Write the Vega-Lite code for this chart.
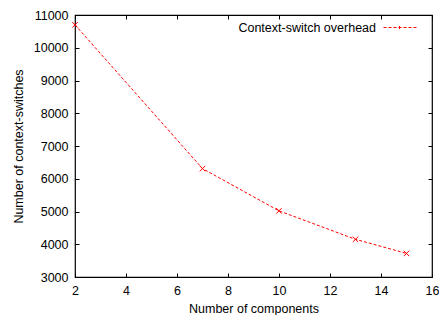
{
  "$schema": "https://vega.github.io/schema/vega-lite/v6.json",
  "width": 357,
  "height": 262,
  "autosize": "none",
  "padding": {"left": 75, "top": 15, "right": 7, "bottom": 38},
  "background": "white",
  "config": {
    "font": "Liberation Sans",
    "view": {"stroke": "#000000", "strokeWidth": 1.2},
    "axis": {
      "grid": false,
      "domain": false,
      "ticks": true,
      "tickSize": -4,
      "tickColor": "#000000",
      "tickWidth": 1,
      "labelFontSize": 12.5,
      "labelColor": "#000000",
      "titleFontSize": 12.5,
      "titleFontWeight": "normal",
      "titleColor": "#000000",
      "labelFlush": false,
      "labelOverlap": false
    }
  },
  "data": {
    "values": [
      {"components": 2, "switches": 10700},
      {"components": 7, "switches": 6310},
      {"components": 10, "switches": 5020},
      {"components": 13, "switches": 4150},
      {"components": 15, "switches": 3720}
    ]
  },
  "layer": [
    {
      "mark": {"type": "line", "strokeDash": [3, 2], "strokeWidth": 1},
      "encoding": {
        "x": {
          "field": "components", "type": "quantitative",
          "scale": {"domain": [2, 16], "nice": false},
          "axis": {"orient": "bottom", "values": [2, 4, 6, 8, 10, 12, 14, 16], "labelPadding": 11, "title": "Number of components", "titlePadding": 5.5}
        },
        "y": {
          "field": "switches", "type": "quantitative",
          "scale": {"domain": [3000, 11000], "nice": false, "zero": false},
          "axis": {"orient": "left", "values": [3000, 4000, 5000, 6000, 7000, 8000, 9000, 10000, 11000], "format": "d", "labelPadding": 11, "title": "Number of context-switches", "titlePadding": 8}
        },
        "color": {
          "datum": "Context-switch overhead",
          "scale": {"range": ["#ff0000"]},
          "legend": {
            "orient": "none",
            "legendX": 308,
            "legendY": -5,
            "title": null,
            "padding": 0,
            "symbolType": "M-1,0H1M-0.09,-0.09L0.09,0.09M-0.09,0.09L0.09,-0.09",
            "symbolSize": 1156,
            "symbolStrokeColor": "#ff0000",
            "symbolFillColor": "transparent",
            "symbolStrokeWidth": 1,
            "symbolDash": [3, 2],
            "labelAlign": "right",
            "labelOffset": -42,
            "labelFontSize": 12.5,
            "labelColor": "#000000"
          }
        }
      }
    },
    {
      "mark": {"type": "point", "shape": "M-1,-1L1,1M-1,1L1,-1", "filled": false, "color": "#ff0000", "size": 30, "strokeWidth": 1, "opacity": 1},
      "encoding": {
        "x": {
          "field": "components", "type": "quantitative",
          "axis": {"orient": "top", "values": [2, 4, 6, 8, 10, 12, 14, 16], "labels": false, "title": null}
        },
        "y": {
          "field": "switches", "type": "quantitative",
          "axis": {"orient": "right", "values": [3000, 4000, 5000, 6000, 7000, 8000, 9000, 10000, 11000], "labels": false, "title": null}
        }
      }
    }
  ],
  "resolve": {"axis": {"x": "independent", "y": "independent"}}
}
